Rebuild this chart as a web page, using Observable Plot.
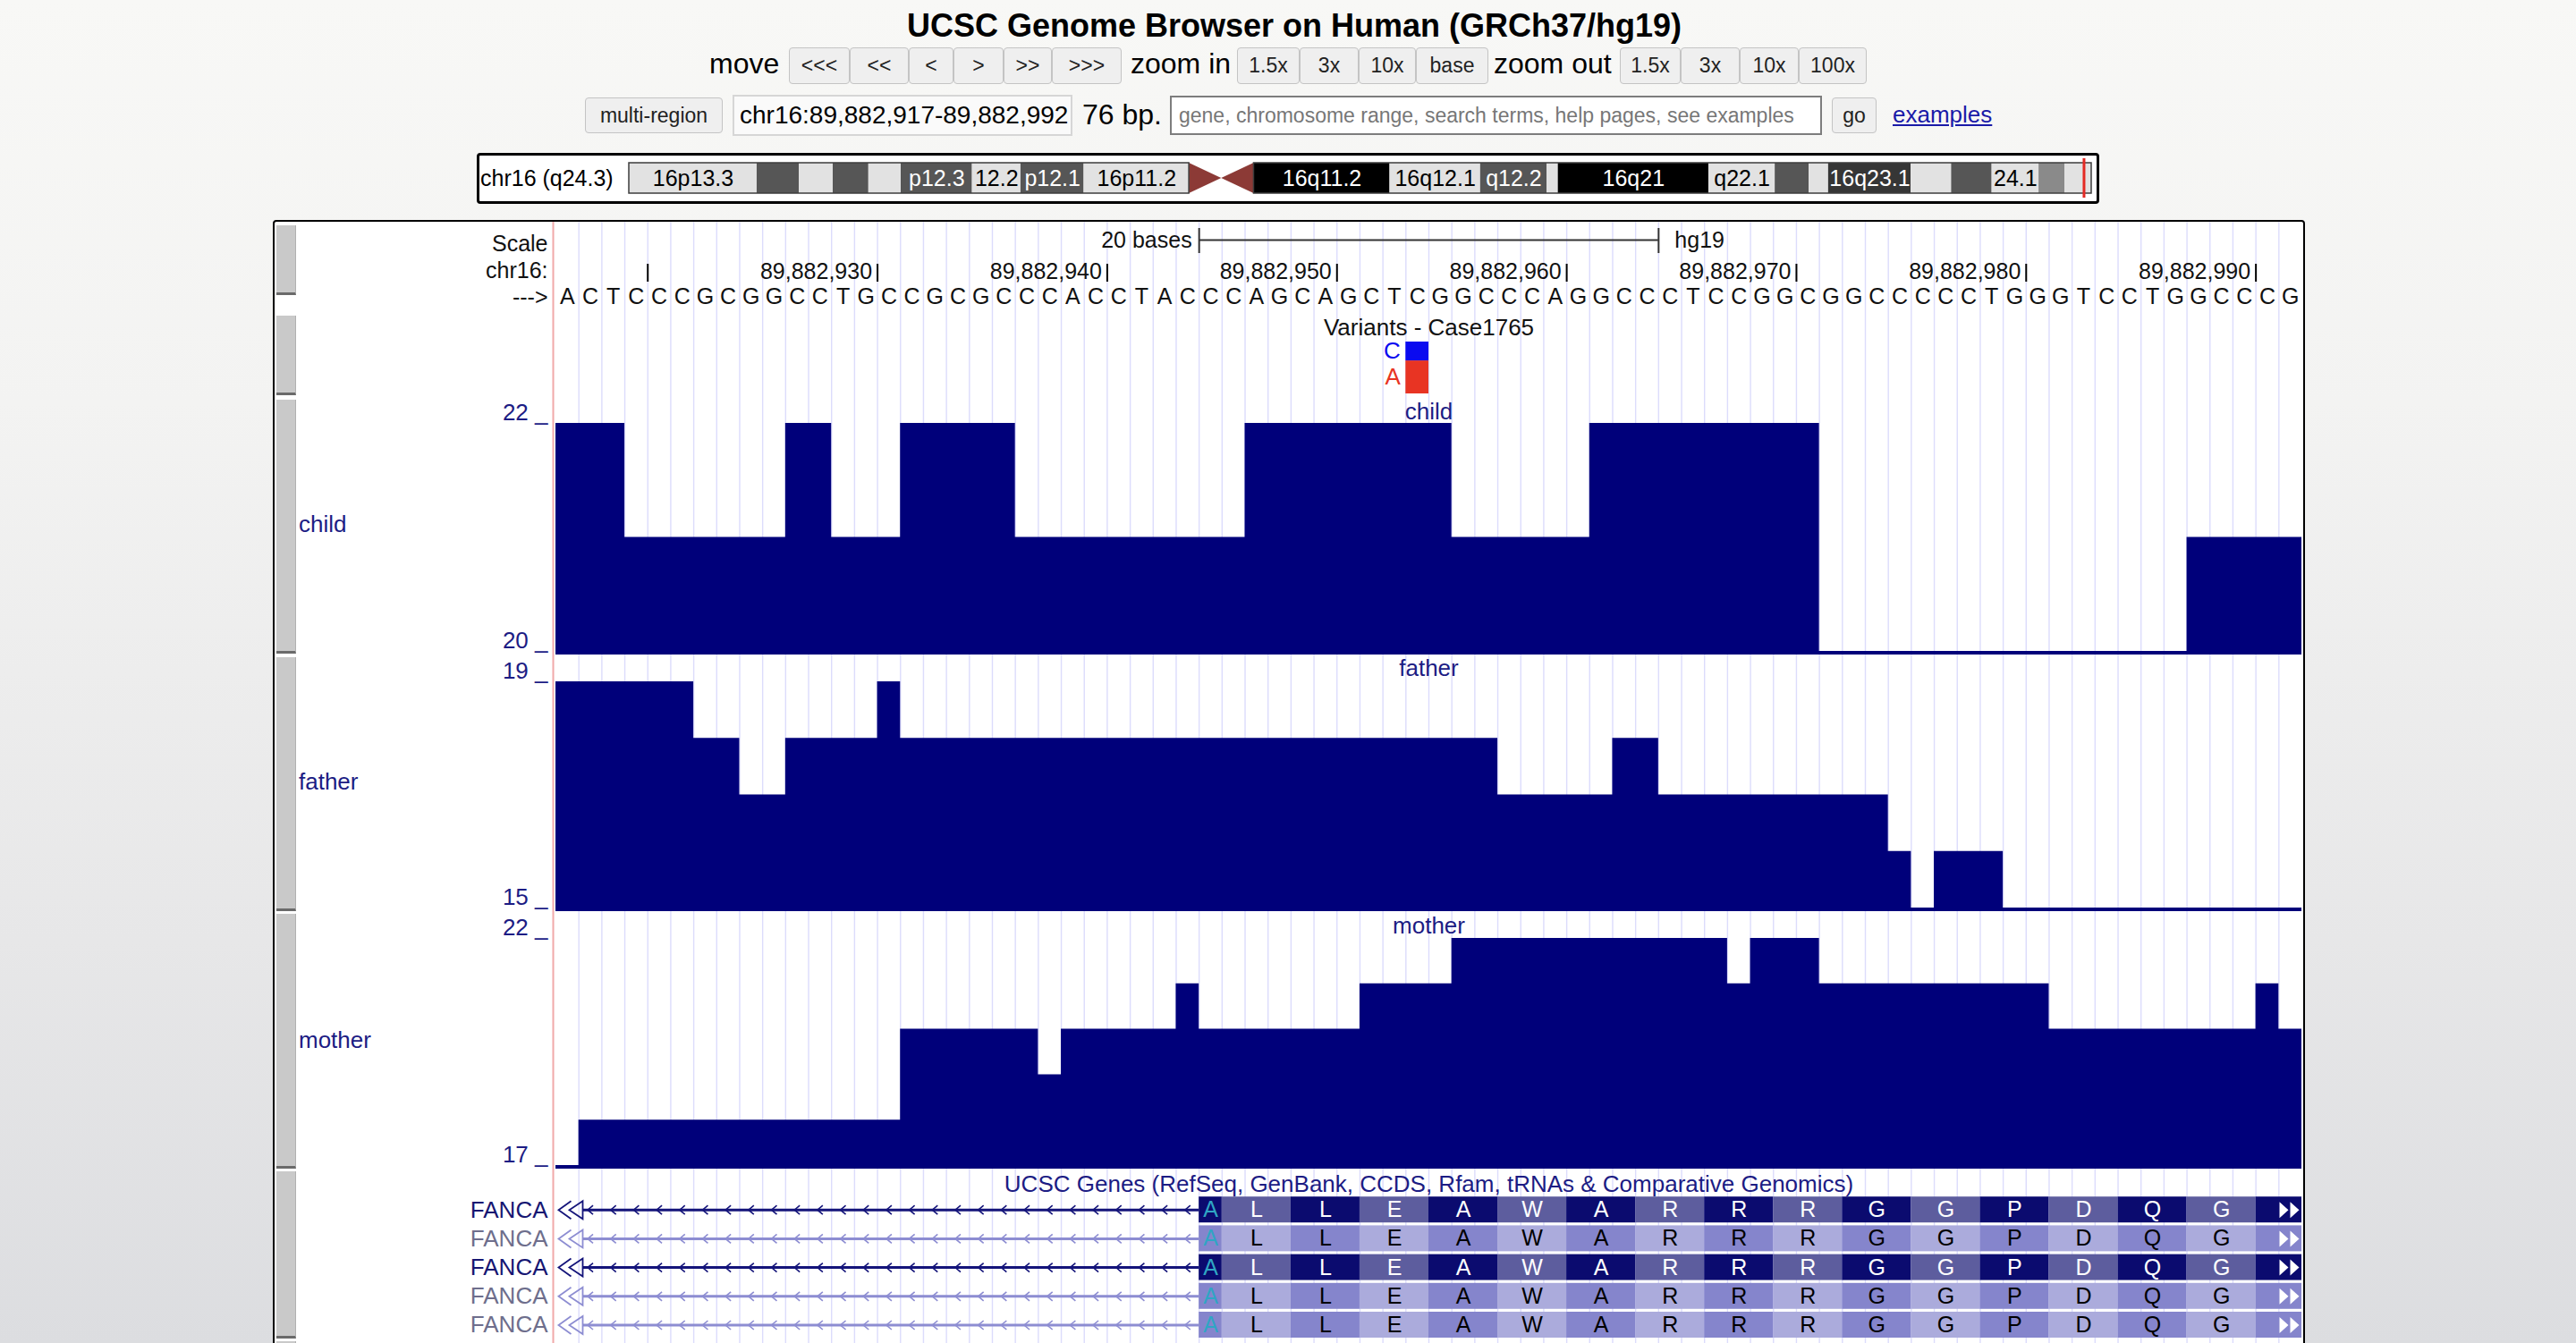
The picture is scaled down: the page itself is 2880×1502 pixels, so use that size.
<!DOCTYPE html>
<html>
<head>
<meta charset="utf-8">
<script src="https://cdn.jsdelivr.net/npm/d3@7"></script>
<script src="https://cdn.jsdelivr.net/npm/@observablehq/plot@0.6"></script>
<style>
  html, body { margin: 0; padding: 0; }
  body { width: 2880px; height: 1502px; overflow: hidden; position: relative;
    font-family: "Liberation Sans", Arial, Helvetica, sans-serif;
    background: linear-gradient(180deg, #f8f8f6 0%, #f3f3f2 30%, #e7e7e8 70%, #dcdde0 100%); }
  .abs { position: absolute; }
  .btn { position: absolute; box-sizing: border-box; height: 41px; top: 53px; background: #efefef;
    border: 1.5px solid #c4c4c4; border-radius: 4px; font-size: 23px; color: #222;
    display: flex; align-items: center; justify-content: center; }
  .lbl { position: absolute; font-size: 32px; color: #000; line-height: 41px; top: 51px; white-space: nowrap; }
  .side { position: absolute; left: 309px; width: 22px; background: #c9c9c9; box-sizing: border-box;
    border-bottom: 3px solid #6a6a6a; border-right: 1px solid #b0b0b0; }
  .tname { position: absolute; left: 334px; font-size: 26px; line-height: 26px; color: #1c1c84; }
</style>
</head>
<body>
<div class="abs" style="left:0;width:2894px;top:11px;text-align:center;font-weight:bold;font-size:36px;line-height:36px;color:#000;">UCSC Genome Browser on Human (GRCh37/hg19)</div>

<div class="lbl" style="left:793px;">move</div>
<div class="btn" style="left:882px;width:68px;">&lt;&lt;&lt;</div>
<div class="btn" style="left:950px;width:66px;">&lt;&lt;</div>
<div class="btn" style="left:1016px;width:50px;">&lt;</div>
<div class="btn" style="left:1066px;width:56px;">&gt;</div>
<div class="btn" style="left:1122px;width:54px;">&gt;&gt;</div>
<div class="btn" style="left:1176px;width:78px;">&gt;&gt;&gt;</div>
<div class="lbl" style="left:1264px;">zoom in</div>
<div class="btn" style="left:1383px;width:70px;">1.5x</div>
<div class="btn" style="left:1453px;width:66px;">3x</div>
<div class="btn" style="left:1519px;width:64px;">10x</div>
<div class="btn" style="left:1583px;width:81px;">base</div>
<div class="lbl" style="left:1670px;">zoom out</div>
<div class="btn" style="left:1811px;width:68px;">1.5x</div>
<div class="btn" style="left:1879px;width:66px;">3x</div>
<div class="btn" style="left:1945px;width:66px;">10x</div>
<div class="btn" style="left:2011px;width:76px;">100x</div>

<div class="btn" style="left:654px;width:154px;top:109px;height:40px;">multi-region</div>
<div class="abs" style="left:819px;top:106px;width:380px;height:46px;box-sizing:border-box;background:#fafafa;border:2px solid #d6d6d6;font-size:28px;line-height:42px;padding-left:6px;color:#000;white-space:nowrap;">chr16:89,882,917-89,882,992</div>
<div class="abs" style="left:1210px;top:108px;font-size:32px;line-height:40px;color:#000;">76 bp.</div>
<div class="abs" style="left:1308px;top:107px;width:729px;height:44px;box-sizing:border-box;background:#fff;border:2px solid #7d7d7d;font-size:23px;line-height:40px;padding-left:8px;color:#777;white-space:nowrap;">gene, chromosome range, search terms, help pages, see examples</div>
<div class="btn" style="left:2048px;width:50px;top:109px;height:40px;">go</div>
<div class="abs" style="left:2116px;top:110px;font-size:26px;line-height:36px;color:#1a1aa8;text-decoration:underline;">examples</div>

<div class="abs" style="left:533px;top:171px;width:1814px;height:57px;box-sizing:border-box;border:3px solid #000;border-radius:4px;background:#fff;"></div>
<div class="abs" style="left:537px;top:186px;font-size:25px;line-height:26px;color:#000;white-space:nowrap;">chr16 (q24.3)</div>

<div class="abs" style="left:305px;top:246px;width:2272px;height:1320px;box-sizing:border-box;border:2px solid #000;border-radius:4px;background:#fff;"></div>

<script>
// ---------------- data ----------------
const chromName = "chr16";
const viewStart = 89882917;   // first base shown (1-based)
const viewEnd = 89882992;     // last base shown
const bases = "ACTCCCGCGGCCTGCCGCGCCCACCTACCCAGCAGCTCGGCCCAGGCCCTCCGGCGGCCCCCTGGGTCCTGGCCCG".split("");

const rulerTicks = [89882920, 89882930, 89882940, 89882950, 89882960, 89882970, 89882980, 89882990];
const scaleBarBases = 20;
const assemblyName = "hg19";
const rulerLabels = ["Scale", "chr16:", "--->"];

const childDepth = [22,22,22, 21,21,21,21,21,21,21, 22,22, 21,21,21, 22,22,22,22,22,
  21,21,21,21,21,21,21,21,21,21, 22,22,22,22,22,22,22,22,22, 21,21,21,21,21,21,
  22,22,22,22,22,22,22,22,22,22, 20,20,20,20,20,20,20,20,20,20,20,20,20,20,20,20,
  21,21,21,21,21];
const fatherDepth = [19,19,19,19,19,19, 18,18, 17,17, 18,18,18,18, 19,
  18,18,18,18,18,18,18,18,18,18,18,18,18,18,18,18,18,18,18,18,18,18,18,18,18,18,
  17,17,17,17,17, 18,18, 17,17,17,17,17,17,17,17,17,17, 16, 15, 16,16,16,
  15,15,15,15,15,15,15,15,15,15,15,15,15];
const motherDepth = [17, 18,18,18,18,18,18,18,18,18,18,18,18,18,18, 20,20,20,20,20,20, 19,
  20,20,20,20,20, 21, 20,20,20,20,20,20,20, 21,21,21,21,
  22,22,22,22,22,22,22,22,22,22,22,22, 21, 22,22,22,
  21,21,21,21,21,21,21,21,21,21, 20,20,20,20,20,20,20,20,20, 21, 20];

const variantTrackName = "Variants - Case1765";
const variantPos = 89882954;
const variantAlleles = ["A", "C"];
const variantCounts = [14, 8];

const geneTrackName = "UCSC Genes (RefSeq, GenBank, CCDS, Rfam, tRNAs & Comparative Genomics)";
const geneNames = ["FANCA", "FANCA", "FANCA", "FANCA", "FANCA"];
const geneClass = ["known", "predicted", "known", "predicted", "predicted"];
const exonStart = 89882945;   // first exonic base in view
const aminoAcids = ["A","L","L","E","A","W","A","R","R","R","G","G","P","D","Q","G"];
const codonSizes = [1,3,3,3,3,3,3,3,3,3,3,3,3,3,3,3];

const chromLength = 90354753;
const cytoNames = ["p13.3","p13.2","p13.13","p13.12","p13.11","p12.3","p12.2","p12.1","p11.2","p11.1",
  "q11.1","q11.2","q12.1","q12.2","q13","q21","q22.1","q22.2","q22.3","q23.1","q23.2","q23.3","q24.1","q24.2","q24.3"];
const cytoStarts = [0,7900000,10500000,12600000,14800000,16800000,21200000,24200000,28100000,34600000,
  36600000,38600000,47000000,52600000,56700000,57400000,66700000,70800000,72900000,74100000,79200000,81700000,84200000,87100000,88700000];
const cytoEnds = [7900000,10500000,12600000,14800000,16800000,21200000,24200000,28100000,34600000,36600000,
  38600000,47000000,52600000,56700000,57400000,66700000,70800000,72900000,74100000,79200000,81700000,84200000,87100000,88700000,90354753];
const cytoStains = ["gneg","gpos50","gneg","gpos50","gneg","gpos50","gneg","gpos50","gneg","acen",
  "acen","gvar","gneg","gpos50","gneg","gpos100","gneg","gpos50","gneg","gpos75","gneg","gpos50","gneg","gpos25","gneg"];

// ---------------- styling / layout ----------------
const FONT = '"Liberation Sans", Arial, Helvetica, sans-serif';
const NAVY = "#1c1c84";
const COV = "#00007a";
const W = 2272, ML = 316, MR = 4, PANEL_LEFT = 305;
const xDomain = [viewStart - 1, viewEnd];
const baseStyle = {background: "transparent", fontFamily: FONT, fontSize: "26px", overflow: "visible"};

function place(svg, left, top, width) {
  const d = document.createElement("div");
  d.className = "abs";
  d.style.left = left + "px"; d.style.top = top + "px"; d.style.width = width + "px";
  svg.style.display = "block";
  d.appendChild(svg);
  document.body.appendChild(d);
}
const canvas = document.createElement("canvas");
const ctx = canvas.getContext("2d");
function textWidth(t, size) { ctx.font = `${size}px ${FONT}`; return ctx.measureText(t).width; }

// ---------------- ideogram ----------------
const stainColor = {gneg: "#e2e2e2", gpos25: "#8a8a8a", gpos50: "#565656", gpos75: "#363636", gpos100: "#000000", gvar: "#000000", acen: "#8c3a36"};
const darkStain = new Set(["gpos50", "gpos75", "gpos100", "gvar"]);
const bands = cytoNames.map((n, i) => ({name: n, start: cytoStarts[i], end: cytoEnds[i], stain: cytoStains[i]}));
const ideoW = 1814, ideoML = 170, ideoMR = 9;
const bpPx = (ideoW - ideoML - ideoMR) / chromLength;
bands.forEach(b => {
  const w = (b.end - b.start) * bpPx;
  const num = chromName.replace("chr", "");
  const cands = [num + b.name, b.name, b.name.slice(1)];
  b.label = b.stain === "acen" ? "" : (cands.find(c => textWidth(c, 25) <= w + 1) || "");
});
const acen = bands.filter(b => b.stain === "acen");
const acenPts = acen.flatMap(b => b.name.startsWith("p")
  ? [{band: b.name, x: b.start, y1: 0, y2: 1}, {band: b.name, x: b.end, y1: 0.5, y2: 0.5}]
  : [{band: b.name, x: b.start, y1: 0.5, y2: 0.5}, {band: b.name, x: b.end, y1: 0, y2: 1}]);
const arms = [
  {x1: 0, x2: d3.min(acen, b => b.start)},
  {x1: d3.max(acen, b => b.end), x2: chromLength}
];
place(Plot.plot({
  width: ideoW, height: 57, marginLeft: ideoML, marginRight: ideoMR, marginTop: 11, marginBottom: 12,
  style: baseStyle,
  x: {domain: [0, chromLength], axis: null},
  y: {domain: [0, 1], axis: null},
  color: {type: "identity"},
  marks: [
    Plot.rect(bands.filter(b => b.stain !== "acen"), {x1: "start", x2: "end", y1: () => 0, y2: () => 1, fill: b => stainColor[b.stain]}),
    Plot.area(acenPts, {x1: "x", y1: "y1", y2: "y2", z: "band", fill: stainColor.acen}),
    Plot.rect(arms, {x1: "x1", x2: "x2", y1: () => 0, y2: () => 1, fill: "none", stroke: "#3c3c3c", strokeWidth: 1.5}),
    Plot.text(bands.filter(b => b.label), {x: b => (b.start + b.end) / 2, y: () => 0.5, text: "label",
      fill: b => darkStain.has(b.stain) ? "#ffffff" : "#000000", fontSize: 25}),
    Plot.ruleX([viewStart], {y1: -0.15, y2: 1.15, stroke: "#e42a24", strokeWidth: 3})
  ]
}), 533, 171, ideoW);

// ---------------- base grid ----------------
const boundaries = d3.range(viewStart, viewEnd);
place(Plot.plot({
  width: W, height: 1254, marginLeft: ML, marginRight: MR, marginTop: 0, marginBottom: 0,
  style: baseStyle,
  x: {domain: xDomain, axis: null},
  marks: [
    Plot.ruleX(boundaries, {stroke: "#dcdcfc", strokeWidth: 1.4}),
    Plot.ruleX([viewStart - 1], {stroke: "#f1a9a9", strokeWidth: 2, dx: -3})
  ]
}), PANEL_LEFT, 248, W);

// side handles and left names
[[252,330],[353,442],[447,731],[735,1019],[1022,1307],[1310,1497],[1500,1530]].forEach(([a, b]) => {
  const d = document.createElement("div"); d.className = "side";
  d.style.top = a + "px"; d.style.height = (b - a) + "px"; document.body.appendChild(d);
});
[["child", 586], ["father", 874], ["mother", 1163]].forEach(([t, y]) => {
  const d = document.createElement("div"); d.className = "tname";
  d.style.top = (y - 13) + "px"; d.textContent = t; document.body.appendChild(d);
});

// ---------------- ruler ----------------
const rulerRows = ["scale", "coord", "seq"];
const rulerText = rulerRows.map((r, i) => ({row: r, label: rulerLabels[i]}));
const mid = (viewStart - 1 + viewEnd) / 2;
const scaleSpan = [mid - scaleBarBases / 2, mid + scaleBarBases / 2];
const fmt = d3.format(",");
const xPx = d3.scaleLinear(xDomain, [ML, W - MR]);
const shownTicks = rulerTicks.filter(t => xPx(t) - 6 - textWidth(fmt(t), 25) >= ML);
place(Plot.plot({
  width: W, height: 90, marginLeft: ML, marginRight: MR, marginTop: 0, marginBottom: 0,
  style: baseStyle,
  x: {domain: xDomain, axis: null},
  y: {type: "band", domain: rulerRows, range: [0, 90], padding: 0, axis: null},
  marks: [
    Plot.text(rulerText, {x: () => viewStart - 1, y: "row", text: "label", textAnchor: "end", dx: -9, dy: 2, fontSize: 25, fill: "#111"}),
    Plot.ruleY([scaleSpan], {x1: d => d[0], x2: d => d[1], y: () => "scale", stroke: "#333", strokeWidth: 2, dy: -2}),
    Plot.tickX(scaleSpan, {x: d => d, y: () => "scale", stroke: "#333", strokeWidth: 2, insetTop: 0, insetBottom: 2}),
    Plot.text([scaleBarBases + " bases"], {x: () => scaleSpan[0], y: () => "scale", text: d => d, textAnchor: "end", dx: -8, dy: -2, fontSize: 25, fill: "#111"}),
    Plot.text([assemblyName], {x: () => scaleSpan[1], y: () => "scale", text: d => d, textAnchor: "start", dx: 18, dy: -2, fontSize: 25, fill: "#111"}),
    Plot.tickX(rulerTicks, {x: d => d, y: () => "coord", insetTop: 10, stroke: "#000", strokeWidth: 2}),
    Plot.text(shownTicks, {x: d => d, y: () => "coord", text: d => fmt(d), textAnchor: "end", dx: -6, dy: 3, fontSize: 25, fill: "#111"}),
    Plot.text(bases, {x: (d, i) => viewStart - 0.5 + i, y: () => "seq", text: d => d, fontSize: 25, dy: 1, fill: "#111"})
  ]
}), PANEL_LEFT, 255, W);

// ---------------- variants ----------------
const alleleColor = {A: "#e83423", C: "#0a0af0"};
const variantData = variantAlleles.map((a, i) => ({allele: a, count: variantCounts[i]}));
place(Plot.plot({
  width: W, height: 90, marginLeft: ML, marginRight: MR, marginTop: 0, marginBottom: 0,
  style: baseStyle,
  x: {domain: xDomain, axis: null},
  y: {domain: [0, d3.sum(variantCounts)], range: [88, 30], axis: null},
  color: {type: "identity"},
  marks: [
    Plot.text([variantTrackName], {text: d => d, frameAnchor: "top", lineAnchor: "middle", dy: 14, fontSize: 26, fill: "#111"}),
    Plot.rectY(variantData, Plot.stackY({x1: () => variantPos - 1, x2: () => variantPos, y: "count", fill: d => alleleColor[d.allele]})),
    Plot.text(variantData, Plot.stackY({x: () => variantPos - 1, y: "count", text: "allele", fill: d => alleleColor[d.allele], textAnchor: "end", dx: -6, fontSize: 26}))
  ]
}), PANEL_LEFT, 352, W);

// ---------------- coverage tracks ----------------
const SLIVER = 4;
function coverageTrack(name, depth, cfg) {
  const lo = d3.min(depth), hi = d3.max(depth);
  const plotH = cfg.height - cfg.marginTop;
  const base = lo - (hi - lo) * SLIVER / (plotH - SLIVER);
  const pts = depth.map((v, i) => ({x: viewStart - 1 + i, v}));
  pts.push({x: viewEnd, v: depth[depth.length - 1]});
  place(Plot.plot({
    width: W, height: cfg.height, marginLeft: ML, marginRight: MR, marginTop: cfg.marginTop, marginBottom: 0,
    style: baseStyle,
    x: {domain: xDomain, axis: null},
    y: {domain: [base, hi], axis: null},
    marks: [
      Plot.area(pts, {x1: "x", y1: () => base, y2: "v", curve: "step-after", fill: COV}),
      Plot.text([name], {text: d => d, frameAnchor: "top", lineAnchor: "middle", dy: cfg.titleY - cfg.marginTop, fontSize: 26, fill: NAVY}),
      Plot.text([hi, lo], {x: () => viewStart - 1, y: d => d, text: d => `${d} _`, textAnchor: "end", lineAnchor: "bottom", dx: -9, dy: -4, fontSize: 26, fill: NAVY})
    ]
  }), PANEL_LEFT, cfg.top, W);
}
coverageTrack("child", childDepth, {top: 449, height: 283, marginTop: 24, titleY: 11});
coverageTrack("father", fatherDepth, {top: 736, height: 283, marginTop: 26, titleY: 11});
coverageTrack("mother", motherDepth, {top: 1023, height: 284, marginTop: 26, titleY: 12});

// ---------------- genes ----------------
const geneShade = {
  known: {dark: "#0b0b6f", mid: "#5d5d9e", line: "#14147a", label: "#161672", letter: "#ffffff"},
  predicted: {dark: "#8585cc", mid: "#ababdc", line: "#8d8dd2", label: "#6e6e8c", letter: "#000000"}
};
const genes = geneNames.map((n, i) => ({row: i, name: n, cls: geneClass[i]}));
const codons = [];
let p = exonStart - 1;
codonSizes.forEach((n, k) => { codons.push({k, aa: aminoAcids[k], x1: p, x2: p + n}); p += n; });
codons.push({k: codons.length, aa: null, x1: p, x2: viewEnd});
const cells = genes.flatMap(g => codons.map(c => ({...c, row: g.row, cls: g.cls})));
const intronArrows = genes.flatMap(g => d3.range(viewStart + 1, exonStart).map(pos => ({x: pos - 0.5, row: g.row, cls: g.cls})));

const chevronLeft = {draw(c) { c.moveTo(3, -5); c.lineTo(-3, 0); c.lineTo(3, 5); }};
const doubleLeft = {draw(c) {
  c.moveTo(17, -10); c.lineTo(3, 0); c.lineTo(17, 10);
  c.moveTo(30, -10); c.lineTo(15, 0); c.lineTo(30, 10); c.closePath();
}};
const doubleRight = {draw(c) {
  c.moveTo(-25, -9); c.lineTo(-15, 0); c.lineTo(-25, 9); c.closePath();
  c.moveTo(-13, -9); c.lineTo(-3, 0); c.lineTo(-13, 9); c.closePath();
}};

place(Plot.plot({
  width: W, height: 190, marginLeft: ML, marginRight: MR, marginTop: 0, marginBottom: 0,
  style: baseStyle,
  x: {domain: xDomain, axis: null},
  y: {domain: [0, 4], range: [40.7, 169.5], axis: null},
  color: {type: "identity"},
  marks: [
    Plot.text([geneTrackName], {text: d => d, frameAnchor: "top", lineAnchor: "middle", dy: 12, fontSize: 26, fill: NAVY}),
    Plot.ruleY(genes, {y: "row", x1: () => viewStart - 1, x2: () => exonStart - 1, insetLeft: 30,
      stroke: d => geneShade[d.cls].line, strokeWidth: 3}),
    Plot.dot(intronArrows, {x: "x", y: "row", symbol: chevronLeft, r: 5, fill: "none",
      stroke: d => geneShade[d.cls].line, strokeWidth: 1.6}),
    Plot.dot(genes, {x: () => viewStart - 1, y: "row", symbol: doubleLeft, r: 5, fill: "none",
      stroke: d => geneShade[d.cls].line, strokeWidth: 1.8}),
    Plot.rect(cells, {x1: "x1", x2: "x2", y1: d => d.row - 0.45, y2: d => d.row + 0.45,
      fill: d => d.k % 2 === 0 ? geneShade[d.cls].dark : geneShade[d.cls].mid}),
    Plot.text(cells.filter(d => d.aa), {x: d => (d.x1 + d.x2) / 2, y: "row", text: "aa", fontSize: 25,
      fill: d => d.k === 0 ? "#2fa6c4" : geneShade[d.cls].letter}),
    Plot.dot(genes, {x: () => viewEnd, y: "row", symbol: doubleRight, r: 5, fill: "#ffffff", stroke: "none"}),
    Plot.text(genes, {x: () => viewStart - 1, y: "row", text: "name", textAnchor: "end", dx: -9, fontSize: 26,
      fill: d => geneShade[d.cls].label})
  ]
}), PANEL_LEFT, 1312, W);
</script>
</body>
</html>
